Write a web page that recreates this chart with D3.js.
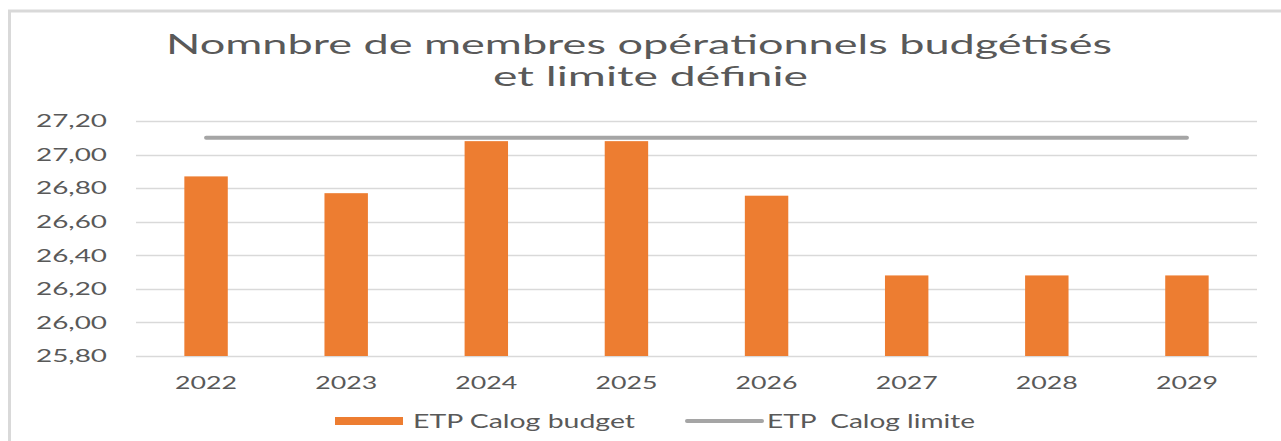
<!DOCTYPE html>
<html>
<head>
<meta charset="utf-8">
<script src="https://cdnjs.cloudflare.com/ajax/libs/d3/7.8.5/d3.min.js"></script>
<style>
  html, body { margin: 0; padding: 0; background: #fff; }
  svg { display: block; font-family: Lato, "Open Sans", sans-serif; }
</style>
</head>
<body>
<div id="chart"></div>
<script>
'use strict';

// data
const years = ['2022', '2023', '2024', '2025', '2026', '2027', '2028', '2029'];
const budget = [26.87, 26.77, 27.08, 27.08, 26.755, 26.28, 26.28, 26.28];
const limite = [27.10, 27.10, 27.10, 27.10, 27.10, 27.10, 27.10, 27.10];
const yTicks = [25.8, 26.0, 26.2, 26.4, 26.6, 26.8, 27.0, 27.2];
const seriesNames = ['ETP Calog budget', 'ETP\u00a0 Calog limite'];

const W = 1281, H = 441;
const plot = { left: 136, right: 1257, top: 121, bottom: 356 };
const ORANGE = '#ed7d31', GREY = '#a5a5a5', TEXT = '#595959', GRID = '#d9d9d9';

const svg = d3.select('#chart').append('svg')
  .attr('width', W)
  .attr('height', H);

// chart frame
svg.append('path')
  .attr('d', `M9.5,${H} V11 H${W}`)
  .attr('fill', 'none')
  .attr('stroke', GRID)
  .attr('stroke-width', 3);

// title (stretched a bit to match the source)
const title = svg.append('text')
  .attr('fill', TEXT)
  .style('font-size', '27px');
title.append('tspan')
  .attr('x', 166).attr('y', 54)
  .attr('textLength', 946).attr('lengthAdjust', 'spacingAndGlyphs')
  .text('Nomnbre de membres opérationnels budgétisés');
title.append('tspan')
  .attr('x', 493).attr('y', 86)
  .attr('textLength', 315).attr('lengthAdjust', 'spacingAndGlyphs')
  .text('et limite définie');

const x = d3.scaleBand()
  .domain(years)
  .range([plot.left, plot.right])
  .paddingInner(0.69)
  .paddingOuter(0.345);

const xc = d => x(d) + x.bandwidth() / 2;

const y = d3.scaleLinear()
  .domain([25.8, 27.2])
  .range([plot.bottom, plot.top]);

// gridlines
svg.append('g')
  .selectAll('line')
  .data(yTicks)
  .join('line')
  .attr('x1', plot.left)
  .attr('x2', plot.right)
  .attr('y1', d => Math.round(y(d)) + 0.5)
  .attr('y2', d => Math.round(y(d)) + 0.5)
  .attr('stroke', GRID)
  .attr('stroke-width', 1.5);

// y axis labels
const fmt = d => d.toFixed(2).replace('.', ',');
svg.append('g')
  .selectAll('text')
  .data(yTicks)
  .join('text')
  .attr('x', 107)
  .attr('y', d => y(d))
  .attr('dy', '0.35em')
  .attr('text-anchor', 'end')
  .attr('fill', TEXT)
  .style('font-size', '18px')
  .attr('textLength', 71)
  .attr('lengthAdjust', 'spacingAndGlyphs')
  .text(fmt);

// bars
svg.append('g')
  .selectAll('rect')
  .data(years)
  .join('rect')
  .attr('x', d => x(d))
  .attr('width', x.bandwidth())
  .attr('y', (d, i) => y(budget[i]))
  .attr('height', (d, i) => y(25.8) - y(budget[i]))
  .attr('fill', ORANGE);

// limit line
const line = d3.line()
  .x((d, i) => xc(years[i]))
  .y(d => y(d));

svg.append('path')
  .datum(limite)
  .attr('d', line)
  .attr('fill', 'none')
  .attr('stroke', GREY)
  .attr('stroke-width', 4)
  .attr('stroke-linecap', 'round');

// x axis labels
svg.append('g')
  .selectAll('text')
  .data(years)
  .join('text')
  .attr('x', xc)
  .attr('y', 389)
  .attr('text-anchor', 'middle')
  .attr('fill', TEXT)
  .style('font-size', '18px')
  .attr('textLength', 62)
  .attr('lengthAdjust', 'spacingAndGlyphs')
  .text(d => d);

// legend
const legend = svg.append('g');
legend.append('rect')
  .attr('x', 335).attr('y', 417)
  .attr('width', 68).attr('height', 8)
  .attr('fill', ORANGE);
legend.append('text')
  .attr('x', 413).attr('y', 428)
  .attr('fill', TEXT)
  .style('font-size', '19px')
  .attr('textLength', 222).attr('lengthAdjust', 'spacingAndGlyphs')
  .text(seriesNames[0]);
legend.append('line')
  .attr('x1', 687).attr('x2', 762)
  .attr('y1', 421).attr('y2', 421)
  .attr('stroke', GREY)
  .attr('stroke-width', 4)
  .attr('stroke-linecap', 'round');
legend.append('text')
  .attr('x', 767).attr('y', 428)
  .attr('fill', TEXT)
  .style('font-size', '19px')
  .attr('textLength', 208).attr('lengthAdjust', 'spacingAndGlyphs')
  .text(seriesNames[1]);
</script>
</body>
</html>
